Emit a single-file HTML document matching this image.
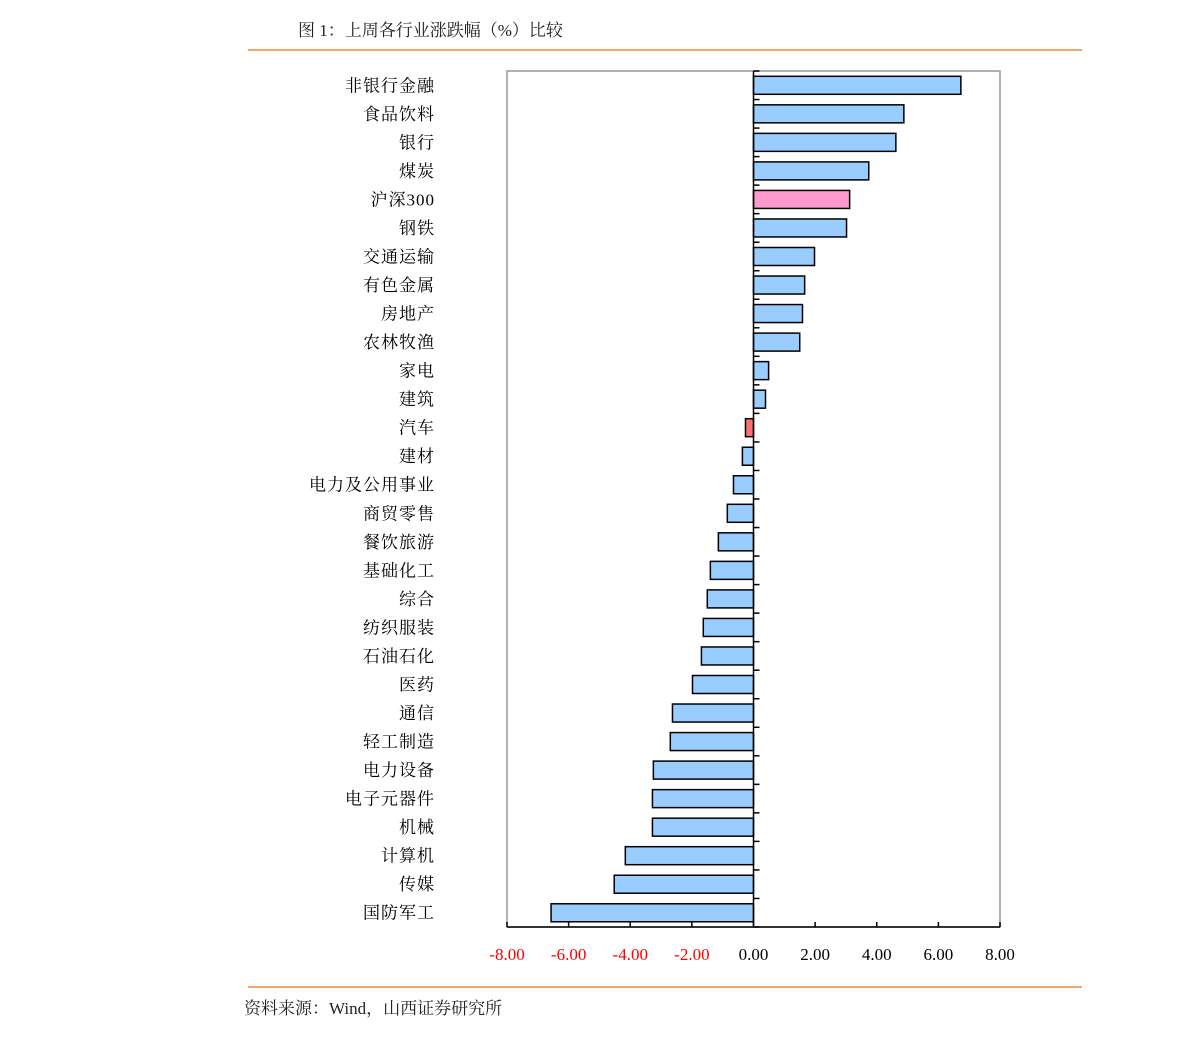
<!DOCTYPE html>
<html><head><meta charset="utf-8"><style>
body{margin:0;background:#fff;}
svg{display:block;}
text{font-family:"Liberation Serif","Noto Serif CJK SC","Noto Sans CJK SC",serif;}
</style></head><body>
<svg width="1191" height="1038" viewBox="0 0 1191 1038" xmlns="http://www.w3.org/2000/svg">
<text x="298" y="36" font-size="17" fill="#222">图 1：上周各行业涨跌幅（%）比较</text>
<line x1="248" y1="50" x2="1082" y2="50" stroke="#f08a3c" stroke-width="1.5"/>
<rect x="507" y="71" width="493" height="856" fill="#fff" stroke="#999" stroke-width="1.5"/>
<g id="bars"></g>
<g id="labels"></g>
<g id="xaxis"></g>
<line x1="248" y1="987" x2="1082" y2="987" stroke="#f08a3c" stroke-width="1.5"/>
<text x="244" y="1014" font-size="17" fill="#222">资料来源：Wind，山西证券研究所</text>
</svg>
<script>
const categories=["非银行金融","食品饮料","银行","煤炭","沪深300","钢铁","交通运输","有色金属","房地产","农林牧渔","家电","建筑","汽车","建材","电力及公用事业","商贸零售","餐饮旅游","基础化工","综合","纺织服装","石油石化","医药","通信","轻工制造","电力设备","电子元器件","机械","计算机","传媒","国防军工"];
const values=[6.73,4.88,4.62,3.74,3.12,3.02,1.98,1.66,1.59,1.50,0.49,0.39,-0.26,-0.36,-0.65,-0.85,-1.14,-1.40,-1.50,-1.63,-1.69,-1.98,-2.63,-2.70,-3.25,-3.28,-3.28,-4.16,-4.52,-6.57];
const ticks=[-8,-6,-4,-2,0,2,4,6,8];
const tickLabels=["-8.00","-6.00","-4.00","-2.00","0.00","2.00","4.00","6.00","8.00"];
const NS="http://www.w3.org/2000/svg";
const L=507,R=1000,T=71,B=927,xmin=-8,xmax=8;
const x=v=>L+(v-xmin)/(xmax-xmin)*(R-L);
const band=(B-T)/categories.length;
const y=i=>T+i*band;
const bars=document.getElementById('bars'),labels=document.getElementById('labels'),xa=document.getElementById('xaxis');
function mk(t,a){const e=document.createElementNS(NS,t);for(const k in a)e.setAttribute(k,a[k]);return e;}
categories.forEach((c,i)=>{
  const v=values[i],x0=x(0),x1=x(v);
  let fill="#99ccff";
  if(c==="沪深300")fill="#ff99cc";else if(c==="汽车")fill="#ff7070";
  const r=mk('rect',{x:Math.min(x0,x1),y:y(i)+5.3,width:Math.abs(x1-x0),height:18,fill:fill,stroke:"#000","stroke-width":1.5});
  
  
  bars.appendChild(r);
  const t=mk('text',{x:435,y:y(i)+band/2+6,"font-size":17,"text-anchor":"end",fill:"#000","letter-spacing":"1"});
  t.textContent=c;
  
  
  labels.appendChild(t);
});
for(let i=0;i<=categories.length;i++){
  const tk=mk('line',{x1:x(0),x2:x(0)+6,y1:y(i),y2:y(i),stroke:"#000","stroke-width":1.5});
  
  
  xa.appendChild(tk);
}
const zl=mk('line',{x1:x(0),x2:x(0),y1:T,y2:B,stroke:"#000","stroke-width":1.5});


xa.appendChild(zl);
const bl=mk('line',{x1:L,x2:R,y1:B,y2:B,stroke:"#000","stroke-width":1.5});


xa.appendChild(bl);
ticks.forEach((v,i)=>{
  const tk=mk('line',{x1:x(v),x2:x(v),y1:B,y2:B-5,stroke:"#000","stroke-width":1.5});
  
  
  xa.appendChild(tk);
  const t=mk('text',{x:x(v),y:960,"font-size":17,"text-anchor":"middle",fill:v<0?"#ff0000":"#000","font-family":"Liberation Mono, monospace"});
  t.textContent=tickLabels[i];
  
  
  xa.appendChild(t);
});
</script>
</body></html>
